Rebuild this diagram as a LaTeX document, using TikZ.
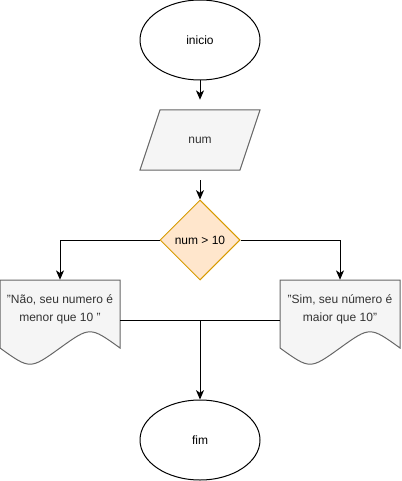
\documentclass[tikz,border=0pt]{standalone}
\usepackage{fontspec}
\setmainfont{Liberation Sans}
\usetikzlibrary{shapes.geometric,arrows.meta}
\definecolor{grayfill}{HTML}{F5F5F5}
\definecolor{graydraw}{HTML}{666666}
\definecolor{graytext}{HTML}{333333}
\definecolor{orfill}{HTML}{FFE6CC}
\definecolor{ordraw}{HTML}{D79B00}
\begin{document}
\begin{tikzpicture}[x=0.75pt,y=-0.75pt,
  every node/.style={font=\fontsize{9}{13.5}\selectfont},
  term/.style={ellipse,draw=black,fill=white,line width=0.75pt,minimum width=90pt,minimum height=60pt,inner sep=0pt},
  box/.style={minimum width=90pt,minimum height=60pt,inner sep=0pt},
  grayshape/.style={fill=grayfill,draw=graydraw,line width=0.75pt},
  dec/.style={diamond,aspect=1,fill=orfill,draw=ordraw,line width=0.75pt,minimum width=60pt,minimum height=60pt,inner sep=0pt},
  arr/.style={line width=0.75pt,-{Stealth[length=7pt,width=6pt,inset=2pt]}},
  ln/.style={line width=0.75pt}]
\useasboundingbox (0,0) rectangle (401,481);
% start
\node[term] (ini) at (200,40) {inicio};
% input
\draw[grayshape] (160,110) -- (260,110) -- (240,170) -- (140,170) -- cycle;
\node[box,text=graytext] (num) at (200,140) {num};
% decision
\node[dec] (dec) at (200,240) {num > 10};
% documents
\draw[grayshape] (0,280) -- (120,280) -- (120,348) .. controls (90,326.4) .. (60,348) .. controls (30,369.6) .. (0,348) -- cycle;
\node[box] (doc1) at (60,320) {};
\node[text=graytext,align=center] (t1) at (60,309) {"Não, seu numero é\\menor que 10 "};
\draw[grayshape] (280,280) -- (400,280) -- (400,348) .. controls (370,326.4) .. (340,348) .. controls (310,369.6) .. (280,348) -- cycle;
\node[box] (doc2) at (340,320) {};
\node[text=graytext,align=center] (t2) at (340,309) {"Sim, seu número é\\maior que 10"};
% end
\node[term] (fim) at (200,440) {fim};
\coordinate (m) at (200,320);
% connectors
\draw[arr] (ini.south) -- (num.north);
\draw[arr] (num.south) -- (dec.north);
\draw[arr] (dec.west) -| (doc1.north);
\draw[arr] (dec.east) -| (doc2.north);
\draw[ln] (doc1.east) -- (m);
\draw[ln] (doc2.west) -- (m);
\draw[arr] (m) -- (fim.north);
\end{tikzpicture}
\end{document}
